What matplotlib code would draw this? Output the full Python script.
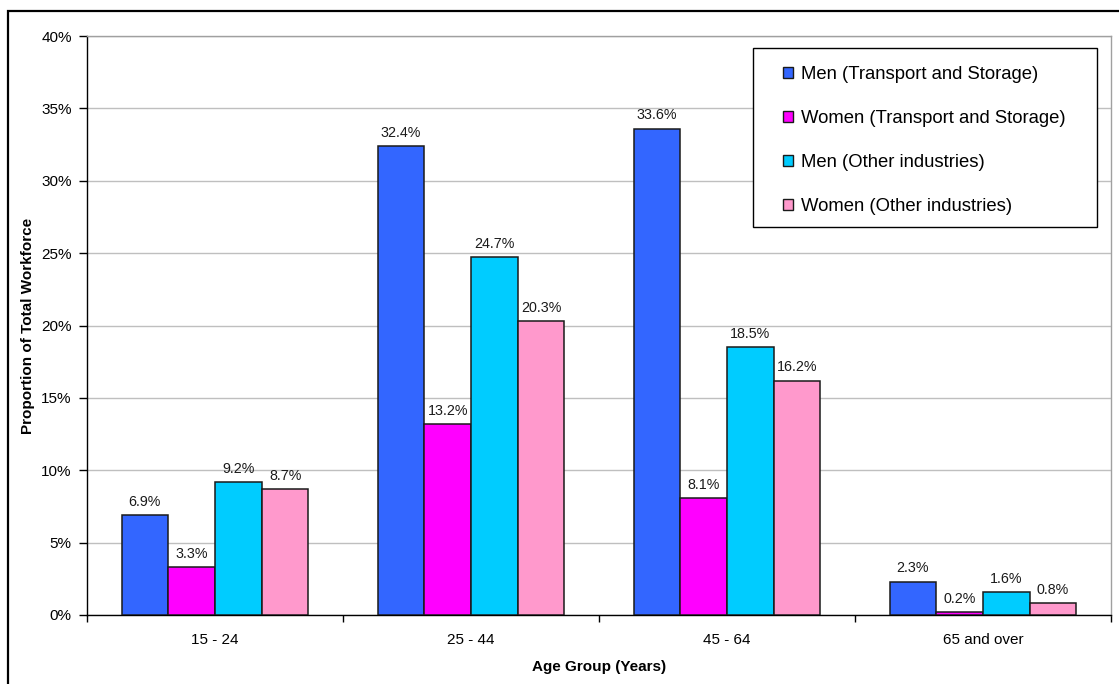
import matplotlib
matplotlib.use("Agg")
import matplotlib.pyplot as plt
from matplotlib.patches import Rectangle
from matplotlib.ticker import PercentFormatter, FixedLocator
import numpy as np

plt.rcParams['font.family'] = ['Liberation Sans', 'DejaVu Sans']

age_groups = ["15 - 24", "25 - 44", "45 - 64", "65 and over"]
series_names = [
    "Men (Transport and Storage)",
    "Women (Transport and Storage)",
    "Men (Other industries)",
    "Women (Other industries)",
]
men_transport = [6.9, 32.4, 33.6, 2.3]
women_transport = [3.3, 13.2, 8.1, 0.2]
men_other = [9.2, 24.7, 18.5, 1.6]
women_other = [8.7, 20.3, 16.2, 0.8]
series_values = [men_transport, women_transport, men_other, women_other]
series_colors = ["#3366FF", "#FF00FF", "#00CCFF", "#FF99CC"]

W, H = 1119, 684
fig = plt.figure(figsize=(W / 100, H / 100), dpi=100)
ax = fig.add_axes([87 / W, 1 - 615 / H, (1111 - 87) / W, (615 - 36) / H])

# outer chart frame
fig.patches.append(Rectangle((8 / W, -0.05), 1.1, 1 - 11 / H + 0.05,
                             transform=fig.transFigure, fill=False,
                             edgecolor="black", linewidth=1.6, zorder=0))

x = np.arange(len(age_groups))
bw = 0.1825
for i, (name, vals, col) in enumerate(zip(series_names, series_values, series_colors)):
    pos = x + (i - 1.5) * bw
    bars = ax.bar(pos, vals, width=bw, color=col, edgecolor="#1a1a1a",
                  linewidth=1.1, label=name, zorder=3)
    for b, v in zip(bars, vals):
        ax.annotate(f"{v:.1f}%", (b.get_x() + b.get_width() / 2, v),
                    xytext=(0, 4.5), textcoords="offset points",
                    ha="center", va="bottom", fontsize=10.3, color="#1a1a1a")

ax.set_xlim(-0.5, 3.5)
ax.set_ylim(0, 40)
ax.yaxis.set_major_locator(FixedLocator(np.arange(0, 41, 5)))
ax.yaxis.set_major_formatter(PercentFormatter(decimals=0))
ax.grid(axis="y", color="#BFBFBF", linewidth=1.0, zorder=0)
ax.set_axisbelow(True)

ax.set_xticks(x)
ax.set_xticklabels(age_groups, fontsize=11)
ax.xaxis.set_minor_locator(FixedLocator(np.arange(-0.5, 3.6, 1.0)))
ax.tick_params(axis="x", which="major", length=0, pad=13)
ax.tick_params(axis="x", which="minor", length=5, width=1, color="black")
ax.tick_params(axis="y", length=6, width=1, labelsize=11, pad=5, color="black")

for s in ("top", "right"):
    ax.spines[s].set_color("#A0A0A0")
    ax.spines[s].set_linewidth(1.0)
for s in ("left", "bottom"):
    ax.spines[s].set_color("black")
    ax.spines[s].set_linewidth(1.0)

ax.set_xlabel("Age Group (Years)", fontsize=11, fontweight="bold", labelpad=9)
ax.set_ylabel("Proportion of Total Workforce", fontsize=11, fontweight="bold")
ax.yaxis.set_label_coords((28 - 87) / (1111 - 87), 0.5)
ax.yaxis.label.set_verticalalignment("center")

# legend: entries without frame, box drawn separately on the axes
ax.add_patch(Rectangle((753 / W, 1 - 227 / H), (1097 - 753) / W, (227 - 48) / H,
                       transform=fig.transFigure, facecolor="white",
                       edgecolor="black", linewidth=1.0, zorder=4, clip_on=False))
leg = ax.legend(loc="upper left", bbox_to_anchor=(783 / W, 1 - 66 / H),
                bbox_transform=fig.transFigure, fontsize=13.3, frameon=False,
                handlelength=0.55, handleheight=0.55, handletextpad=0.45,
                labelspacing=1.47, borderpad=0, borderaxespad=0)
for h in leg.legend_handles:
    h.set_edgecolor("#1a1a1a")
    h.set_linewidth(1.0)
leg.set_zorder(5)

fig.savefig("out.png", dpi=100, facecolor="white")
